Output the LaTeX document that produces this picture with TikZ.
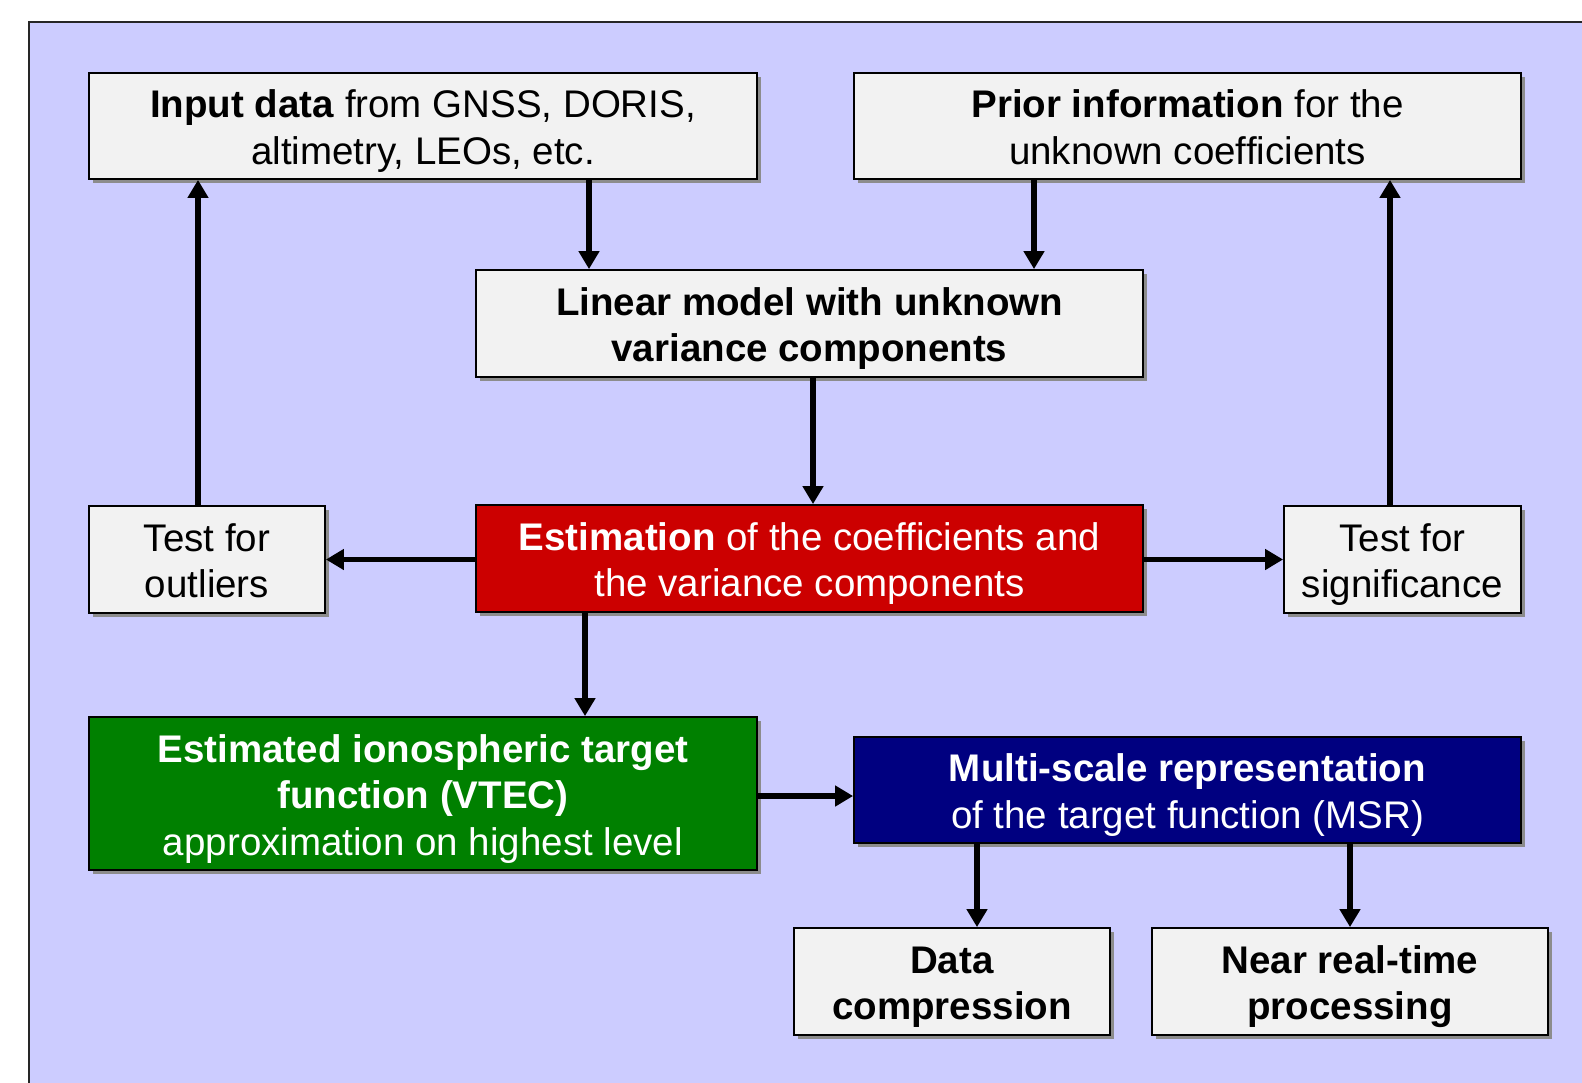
\documentclass[tikz,border=0pt]{standalone}
\usepackage{fontspec}
\setmainfont{Liberation Sans}
\usetikzlibrary{shadows,arrows.meta}
\definecolor{bgc}{HTML}{CCCCFF}
\definecolor{boxc}{HTML}{F2F2F2}
\definecolor{redc}{HTML}{CC0000}
\definecolor{greenc}{HTML}{008000}
\definecolor{bluec}{HTML}{000080}
\newcommand\mlines[1]{\vbox{\kern10pt\halign{\hfil##\vrule width0pt height29pt depth9pt\hfil\cr#1\crcr}}}
\tikzset{
  bx/.style={draw=black, line width=1.8pt, fill=boxc, inner sep=0pt,
    font=\fontsize{38.5}{46.5}\selectfont,
    drop shadow={shadow xshift=4pt, shadow yshift=-4pt, fill=black!45, opacity=1}},
  arr/.style={line width=5.5pt, -{Triangle[length=18pt,width=20pt]}}
}
\begin{document}
\begin{tikzpicture}[x=1pt,y=-1pt]
\useasboundingbox (0,0) rectangle (1582,1082);
\draw[fill=bgc, line width=2pt, draw=black!85] (29,22) rectangle (1640,1140);
% boxes
\node[bx, minimum width=668pt, minimum height=106pt] (input) at (423,126) {\mlines{\textbf{Input data} from GNSS, DORIS,\cr altimetry, LEOs, etc.}};
\node[bx, minimum width=667pt, minimum height=106pt] (prior) at (1187.5,126) {\mlines{\textbf{Prior information} for the\cr unknown coefficients}};
\node[bx, minimum width=667pt, minimum height=107pt] (linear) at (809.5,323.5) {\mlines{\textbf{Linear model with unknown}\cr \textbf{variance components}}};
\node[bx, fill=redc, text=white, minimum width=667pt, minimum height=107pt] (est) at (809.5,558.5) {\mlines{\textbf{Estimation} of the coefficients and\cr the variance components}};
\node[bx, minimum width=236pt, minimum height=107pt] (outl) at (207,559.5) {\mlines{Test for\cr outliers}};
\node[bx, minimum width=237pt, minimum height=107pt] (sig) at (1402.5,559.5) {\mlines{Test for\cr significance}};
\node[bx, fill=greenc, text=white, minimum width=668pt, minimum height=153pt] (vtec) at (423,793.5) {\mlines{\textbf{Estimated ionospheric target}\cr \textbf{function (VTEC)}\cr approximation on highest level}};
\node[bx, fill=bluec, text=white, minimum width=667pt, minimum height=106pt] (msr) at (1187.5,790) {\mlines{\textbf{Multi-scale representation}\cr of the target function (MSR)}};
\node[bx, minimum width=316pt, minimum height=107pt] (data) at (952,981.5) {\mlines{\textbf{Data}\cr \textbf{compression}}};
\node[bx, minimum width=396pt, minimum height=107pt] (near) at (1350,981.5) {\mlines{\textbf{Near real-time}\cr \textbf{processing}}};
% connectors
\draw[arr] ([xshift=166pt]input.south) -- ([xshift=166pt]input.south |- linear.north);
\draw[arr] ([xshift=-153.5pt]prior.south) -- ([xshift=-153.5pt]prior.south |- linear.north);
\draw[arr] ([xshift=3.5pt]linear.south) -- ([xshift=3.5pt]linear.south |- est.north);
\draw[arr] (est.west |- outl.east) -- (outl.east);
\draw[arr] (est.east |- sig.west) -- (sig.west);
\draw[arr] ([xshift=-9pt]outl.north) -- ([xshift=-9pt]outl.north |- input.south);
\draw[arr] ([xshift=-12.5pt]sig.north) -- ([xshift=-12.5pt]sig.north |- prior.south);
\draw[arr] ([xshift=-224.5pt]est.south) -- ([xshift=-224.5pt]est.south |- vtec.north);
\draw[arr] ([yshift=-6pt]vtec.east |- msr.west) -- ([yshift=-6pt]msr.west);
\draw[arr] ([xshift=-210.5pt]msr.south) -- ([xshift=-210.5pt]msr.south |- data.north);
\draw[arr] ([xshift=162.5pt]msr.south) -- ([xshift=162.5pt]msr.south |- near.north);
\end{tikzpicture}
\end{document}
